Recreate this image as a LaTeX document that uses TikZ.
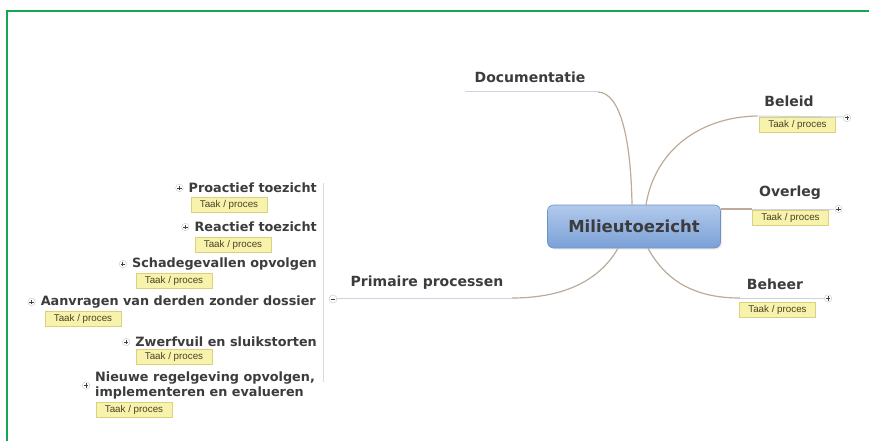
\documentclass[tikz,border=0pt]{standalone}
\usepackage{fontspec}
\setmainfont{DejaVu Sans}
\newfontfamily\taakfont{Liberation Sans}
\usetikzlibrary{shadows}
\definecolor{framegreen}{RGB}{20,166,80}
\definecolor{txt}{RGB}{60,60,62}
\definecolor{branch}{RGB}{188,170,155}
\definecolor{uline}{RGB}{205,212,225}
\definecolor{taakfill}{RGB}{247,243,172}
\definecolor{taakdraw}{RGB}{218,208,125}
\definecolor{taaktxt}{RGB}{75,65,35}
\definecolor{midtop}{RGB}{178,202,236}
\definecolor{midbot}{RGB}{122,160,214}
\definecolor{middraw}{RGB}{110,145,200}
\begin{document}
\begin{tikzpicture}[x=1pt,y=-1pt,
  topic/.style={font=\bfseries\fontsize{14}{16}\selectfont, text=txt, inner sep=1pt},
  child/.style={font=\bfseries\fontsize{12.8}{15}\selectfont, text=txt, inner sep=1pt},
  taak/.style={draw=taakdraw, fill=taakfill, text=taaktxt, line width=0.6pt,
    font=\taakfont\fontsize{9.8}{10}\selectfont, inner sep=1pt,
    minimum width=76pt, minimum height=15pt},
  central/.style={draw=middraw, rounded corners=6pt, top color=midtop, bottom color=midbot,
    minimum width=173pt, minimum height=43pt, text=txt, line width=0.6pt,
    font=\bfseries\fontsize{16.5}{18}\selectfont, drop shadow={opacity=0.15, shadow xshift=1.5pt, shadow yshift=-1.5pt}},
  branchline/.style={draw=branch, line width=1.2pt},
  ulinestyle/.style={draw=uline, line width=1pt},
  plusicon/.style={circle, draw=gray!45, fill=white, inner sep=0pt, minimum size=7.5pt,
    path picture={\draw[line width=1pt, black!75]
      ([xshift=-2.2pt]path picture bounding box.center) -- ([xshift=2.2pt]path picture bounding box.center)
      ([yshift=-2.2pt]path picture bounding box.center) -- ([yshift=2.2pt]path picture bounding box.center);}},
  minusicon/.style={circle, draw=gray!50, fill=white, inner sep=0pt, minimum size=8pt,
    path picture={\draw[line width=1pt, black!75]
      ([xshift=-2.2pt]path picture bounding box.center) -- ([xshift=2.2pt]path picture bounding box.center);}}
]
\useasboundingbox (0,0) rectangle (869,441);
% frame
\draw[framegreen, line width=2.6pt] (7,441) -- (7,11) -- (869,11);

% central
\node[central] (mil) at (634,226.5) {Milieutoezicht};

% level-1 topics
\node[topic] (doc) at (530,77) {Documentatie};
\node[topic] (bel) at (789,101) {Beleid};
\node[topic] (ove) at (790,193) {Overleg};
\node[topic] (beh) at (775,284) {Beheer};
\node[topic] (pri) at (427,283) {Primaire processen};

% taak boxes level 1
\node[taak] (tbel) at (797.5,125) {Taak / proces};
\node[taak] (tove) at (790.5,217.5) {Taak / proces};
\node[taak] (tbeh) at (777.5,309.5) {Taak / proces};

% underline coordinates
\coordinate (docA) at (465,92);
\coordinate (docB) at (598,92);
\coordinate (belA) at (757,116);
\coordinate (belB) at (843,117);
\coordinate (oveA) at (752,209);
\coordinate (oveB) at (834,209);
\coordinate (behA) at (740,298);
\coordinate (behB) at (824,298);
\coordinate (priA) at (336,298);
\coordinate (priB) at (512,298);

% branches
\draw[branchline] ([xshift=-2pt]mil.north) .. controls (631,145) and (622,93) .. (docB);
\draw[ulinestyle] (docA) -- (docB);
\draw[branchline] ([xshift=12pt]mil.north) .. controls (655,150) and (700,117) .. (belA);
\draw[ulinestyle] (belA) -- (belB);
\draw[branchline] (mil.east |- oveA) -- (oveA);
\draw[ulinestyle] (oveA) -- (oveB);
\draw[branchline] ([xshift=14pt]mil.south) .. controls (668,285) and (700,298) .. (behA);
\draw[ulinestyle] (behA) -- (behB);
\draw[branchline] ([xshift=-16pt]mil.south) .. controls (598,283) and (560,298) .. (priB);
\draw[ulinestyle] (priA) -- (priB);

% expand icons level 1
\node[plusicon] (pbel) at (847,118) {};
\node[plusicon] (pove) at (838.5,209) {};
\node[plusicon] (pbeh) at (828,298.5) {};

% children of Primaire processen
\coordinate (vtop) at (323,183);
\coordinate (vbot) at (323,382);
\draw[gray!30, line width=0.9pt] (vtop) -- (vbot);
\node[minusicon] (mpri) at (333,299) {};

\node[child, anchor=east] (pro) at (318,188) {Proactief toezicht};
\node[child, anchor=east] (rea) at (318,227) {Reactief toezicht};
\node[child, anchor=east] (sch) at (318,264) {Schadegevallen opvolgen};
\node[child, anchor=east] (aan) at (317,302) {Aanvragen van derden zonder dossier};
\node[child, anchor=east] (zwe) at (318,342) {Zwerfvuil en sluikstorten};
\node[child, anchor=west, align=left] (nie) at (94,385.5) {Nieuwe regelgeving opvolgen,\\implementeren en evalueren};

\node[plusicon] (ppro) at ([xshift=-8pt]pro.west) {};
\node[plusicon] (prea) at ([xshift=-8pt]rea.west) {};
\node[plusicon] (psch) at ([xshift=-8pt]sch.west) {};
\node[plusicon] (paan) at ([xshift=-8pt]aan.west) {};
\node[plusicon] (pzwe) at ([xshift=-8pt]zwe.west) {};
\node[plusicon] (pnie) at ([xshift=-8pt]nie.west) {};

\node[taak] (tpro) at (229,204.5) {Taak / proces};
\node[taak] (trea) at (233,245) {Taak / proces};
\node[taak] (tsch) at (174,280.5) {Taak / proces};
\node[taak] (taan) at (83,318.5) {Taak / proces};
\node[taak] (tzwe) at (174,357) {Taak / proces};
\node[taak] (tnie) at (134,410) {Taak / proces};
\end{tikzpicture}
\end{document}
